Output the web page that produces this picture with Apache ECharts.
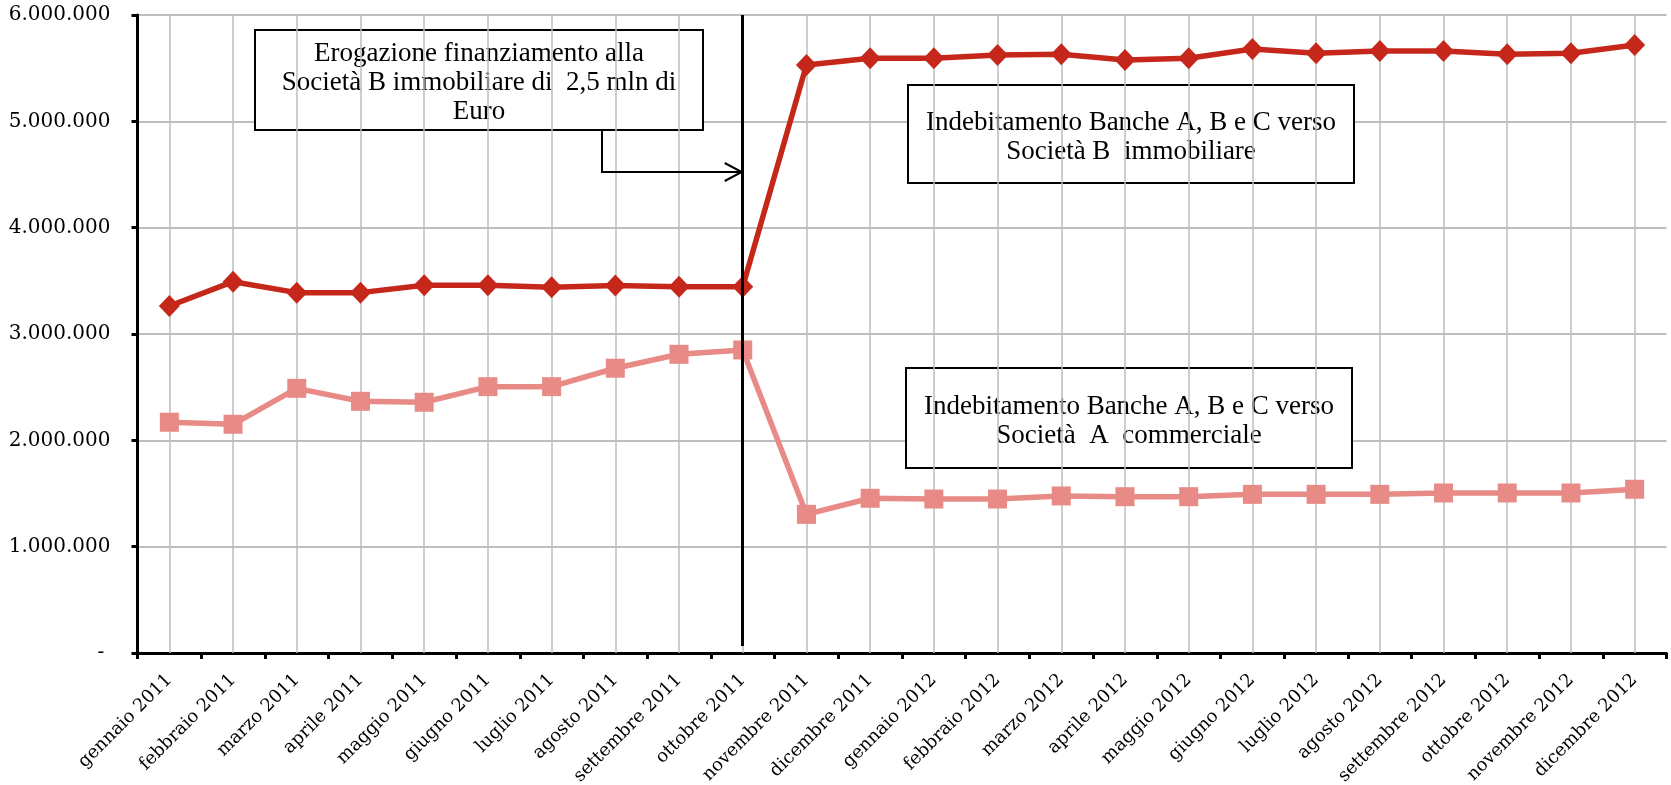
<!DOCTYPE html>
<html>
<head>
<meta charset="utf-8">
<script src="https://cdn.jsdelivr.net/npm/echarts@6/dist/echarts.min.js"></script>
<style>
html,body{margin:0;padding:0;background:#fff;}
#chart{width:1671px;height:785px;}
</style>
</head>
<body>
<div id="chart"></div>
<script>
// mesi
var mesi = ['gennaio 2011','febbraio 2011','marzo 2011','aprile 2011','maggio 2011','giugno 2011',
	'luglio 2011','agosto 2011','settembre 2011','ottobre 2011','novembre 2011','dicembre 2011',
	'gennaio 2012','febbraio 2012','marzo 2012','aprile 2012','maggio 2012','giugno 2012',
	'luglio 2012','agosto 2012','settembre 2012','ottobre 2012','novembre 2012','dicembre 2012'];
// Società B immobiliare
var societaB = [3263000,3492000,3389000,3389000,3458000,3458000,3439000,3455000,3445000,3445000,
	5530000,5593000,5593000,5624000,5630000,5577000,5593000,5680000,5640000,5662000,5662000,5630000,5640000,5718000];
// Società A commerciale
var societaA = [2170000,2151000,2489000,2367000,2358000,2505000,2505000,2678000,2809000,2850000,
	1304000,1455000,1448000,1448000,1477000,1470000,1470000,1492000,1492000,1492000,1505000,1505000,1505000,1540000];
var yTicks = [0,1000000,2000000,3000000,4000000,5000000,6000000];
var meseErogazione = 'ottobre 2011';

var chart = echarts.init(document.getElementById('chart'));

function fmt(v){
	if(v == 0){ return '- '; }
	return String(v).replace(/\B(?=(\d{3})+(?!\d))/g, '.');
}

// riquadro con testo
function box(x, y, w, h, testo){
	return {
		type: 'group', left: x, top: y, z: 50,
		children: [
			{type:'rect', shape:{x:0,y:0,width:w,height:h}, style:{fill:'#fff',stroke:'#000',lineWidth:2}},
			{type:'text', x:w/2, y:h/2+3, style:{text:testo, font:'27px "Liberation Serif"', fill:'#000',
				align:'center', verticalAlign:'middle', lineHeight:29}}
		]
	};
}

var option = {
	animation: false,
	backgroundColor: '#fff',
	grid: {left:137.5, right:4.5, top:15, bottom:132, containLabel:false, outerBoundsMode:'none'},
	xAxis: {
		type: 'category',
		data: mesi,
		boundaryGap: true,
		axisLine: {lineStyle:{color:'#000', width:3}},
		axisTick: {show:true, length:6, lineStyle:{color:'#000', width:3}},
		axisLabel: {rotate:45, margin:24, color:'#000', fontFamily:'DejaVu Serif', fontSize:18, interval:0},
		splitLine: {show:false}
	},
	yAxis: {
		type: 'value',
		min: yTicks[0], max: yTicks[yTicks.length-1], interval: yTicks[1]-yTicks[0],
		axisLine: {show:true, lineStyle:{color:'#000', width:3}},
		axisTick: {show:true, length:6, lineStyle:{color:'#000', width:3}},
		axisLabel: {formatter:fmt, margin:27, color:'#000', fontFamily:'DejaVu Serif', fontSize:20},
		splitLine: {show:true, lineStyle:{color:'#a9a9a9', width:1.5}}
	},
	series: [
		{
			name: 'Società A commerciale',
			type: 'line',
			data: societaA,
			symbol: 'rect',
			symbolSize: 19,
			itemStyle: {color:'#e88a85'},
			lineStyle: {color:'#e88a85', width:5.5},
			z: 3,
			markLine: {
				silent: true, z: 1, symbol:['none','none'], label:{show:false},
				lineStyle: {color:'#bdbdbd', width:1.5, type:'solid'},
				data: mesi.map(function(m){ return {xAxis:m}; })
			}
		},
		{
			name: 'Società B immobiliare',
			type: 'line',
			data: societaB,
			symbol: 'diamond',
			symbolSize: [21,22],
			itemStyle: {color:'#c5281b'},
			lineStyle: {color:'#c5281b', width:5.5},
			z: 4,
			markLine: {
				silent: true, z: 10, symbol:['none','none'], label:{show:false},
				lineStyle: {color:'#000', width:3, type:'solid'},
				data: [[{xAxis:meseErogazione, yAxis:6000000}, {xAxis:meseErogazione, yAxis:66000}]]
			}
		}
	]
};
chart.setOption(option);

// freccia verso la linea verticale
var xt = chart.convertToPixel({xAxisIndex:0}, meseErogazione);
chart.setOption({
	graphic: [
		box(254, 29, 448, 100, 'Erogazione finanziamento alla\nSocietà B immobiliare di  2,5 mln di\nEuro'),
		box(907, 84, 446, 98, 'Indebitamento Banche A, B e C verso\nSocietà B  immobiliare'),
		box(905, 367, 446, 100, 'Indebitamento Banche A, B e C verso\nSocietà  A  commerciale'),
		{type:'polyline', z:50, shape:{points:[[602,129],[602,172],[xt-1,172]]}, style:{stroke:'#000', lineWidth:2, fill:null}},
		{type:'polyline', z:50, shape:{points:[[xt-18,163],[xt-1,172],[xt-18,181]]}, style:{stroke:'#000', lineWidth:2, fill:null}}
	]
});
</script>
</body>
</html>
